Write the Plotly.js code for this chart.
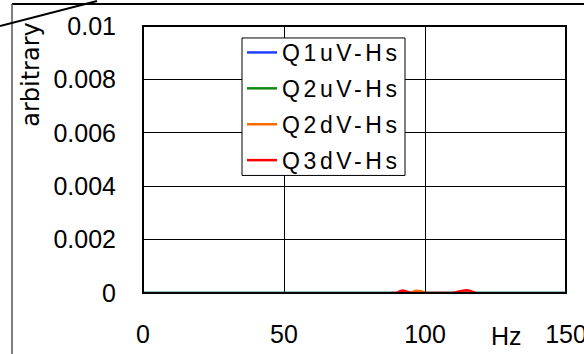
<!DOCTYPE html>
<html><head><meta charset="utf-8">
<script src="https://cdn.plot.ly/plotly-3.0.1.min.js"></script>
<style>body{margin:0;padding:0;background:#fff}#c{width:584px;height:354px}</style>
</head><body><div id="c"></div>
<script>
const seriesNames = ["Q1uV-Hs","Q2uV-Hs","Q2dV-Hs","Q3dV-Hs"];
const seriesColors = ["#1f3fff","#118811","#ff6a00","#ff0000"];
const q1uX = [0, 150];
const q1uY = [0, 0];
const q2uX = [0, 150];
const q2uY = [0, 0];
const q2dX = [95, 96, 97, 98, 99, 100];
const q2dY = [0, 0.00006, 0.00008, 0.00008, 0.00006, 0];
const q3dX = [88, 90, 91, 92, 93, 95, 110, 112, 114, 115, 116, 118];
const q3dY = [0, 0, 0.00006, 0.00009, 0.00007, 0, 0, 0.00006, 0.00009, 0.0001, 0.00008, 0];
const xTicks = [0, 50, 100, 150];
const yTicks = [0, 0.002, 0.004, 0.006, 0.008, 0.01];
const yTickText = ["0","0.002","0.004","0.006","0.008","0.01"];

const xs = [q1uX, q2uX, q2dX, q3dX];
const ys = [q1uY, q2uY, q2dY, q3dY];
const traces = seriesNames.map((n,i)=>({
  x: xs[i], y: ys[i], name: '<span style="letter-spacing:3.6px">' + n + '</span>',
  type: 'scatter', mode: 'lines',
  line: {color: seriesColors[i], width: 2.5}, legendgroup: 'g'+i
}));

const F = 'Liberation Sans, Arial, sans-serif';
const TF = {size: 25, family: F, color: '#000'};
const px = v => (v-143)/423;
const py = v => (293-v)/268;
const layout = {
  width: 584, height: 354,
  margin: {l: 143, r: 18, t: 26, b: 61},
  paper_bgcolor: '#fff', plot_bgcolor: '#fff',
  showlegend: true,
  font: {family: F, color: '#000'},
  xaxis: {
    range: [0, 150], tickvals: xTicks, ticktext: xTicks.map(String),
    showgrid: true, gridcolor: '#000', gridwidth: 1, zeroline: false,
    showline: false, ticks: '', tickfont: TF,
    ticklabelstandoff: 24, ticklabeloverflow: 'allow'
  },
  yaxis: {
    range: [0, 0.01], tickvals: yTicks, ticktext: yTickText,
    showgrid: true, gridcolor: '#000', gridwidth: 1, zeroline: false,
    showline: false, ticks: '', tickfont: TF,
    ticklabelstandoff: 26, ticklabeloverflow: 'allow'
  },
  legend: {
    x: px(242), y: py(30), xanchor: 'left', yanchor: 'top',
    bgcolor: 'rgba(0,0,0,0)', borderwidth: 0,
    font: {size: 23, family: F, color: '#000'},
    tracegroupgap: 3, itemwidth: 30
  },
  annotations: [
    {text: 'Hz', xref: 'paper', yref: 'paper', x: px(506), y: py(336),
     xanchor: 'center', yanchor: 'middle', showarrow: false, font: TF},
    {text: 'arbitrary', xref: 'paper', yref: 'paper', x: px(31), y: py(74),
     xanchor: 'center', yanchor: 'middle', textangle: -90, showarrow: false,
     font: {size: 24, family: 'DejaVu Sans, sans-serif', color: '#000'}}
  ],
  shapes: [
    {type: 'rect', xref: 'paper', yref: 'paper', x0: 0, x1: 1, y0: 0, y1: 1, layer: 'above',
     line: {color: '#000', width: 2}},
    {type: 'rect', xref: 'paper', yref: 'paper', x0: px(242), x1: px(405), y0: py(37), y1: py(175), layer: 'above',
     fillcolor: '#fff', line: {color: '#000', width: 1}},
    {type: 'line', xref: 'paper', yref: 'paper', x0: px(12), x1: px(584), y0: py(3), y1: py(3), line: {color: '#000', width: 2}},
    {type: 'line', xref: 'paper', yref: 'paper', x0: px(12), x1: px(12), y0: py(3), y1: py(360), line: {color: '#555', width: 1.5}},
    {type: 'line', xref: 'paper', yref: 'paper', x0: px(0), x1: px(97), y0: py(25), y1: py(0), line: {color: '#000', width: 2}}
  ]
};
Plotly.newPlot('c', traces, layout, {displayModeBar: false, staticPlot: true});
</script></body></html>
